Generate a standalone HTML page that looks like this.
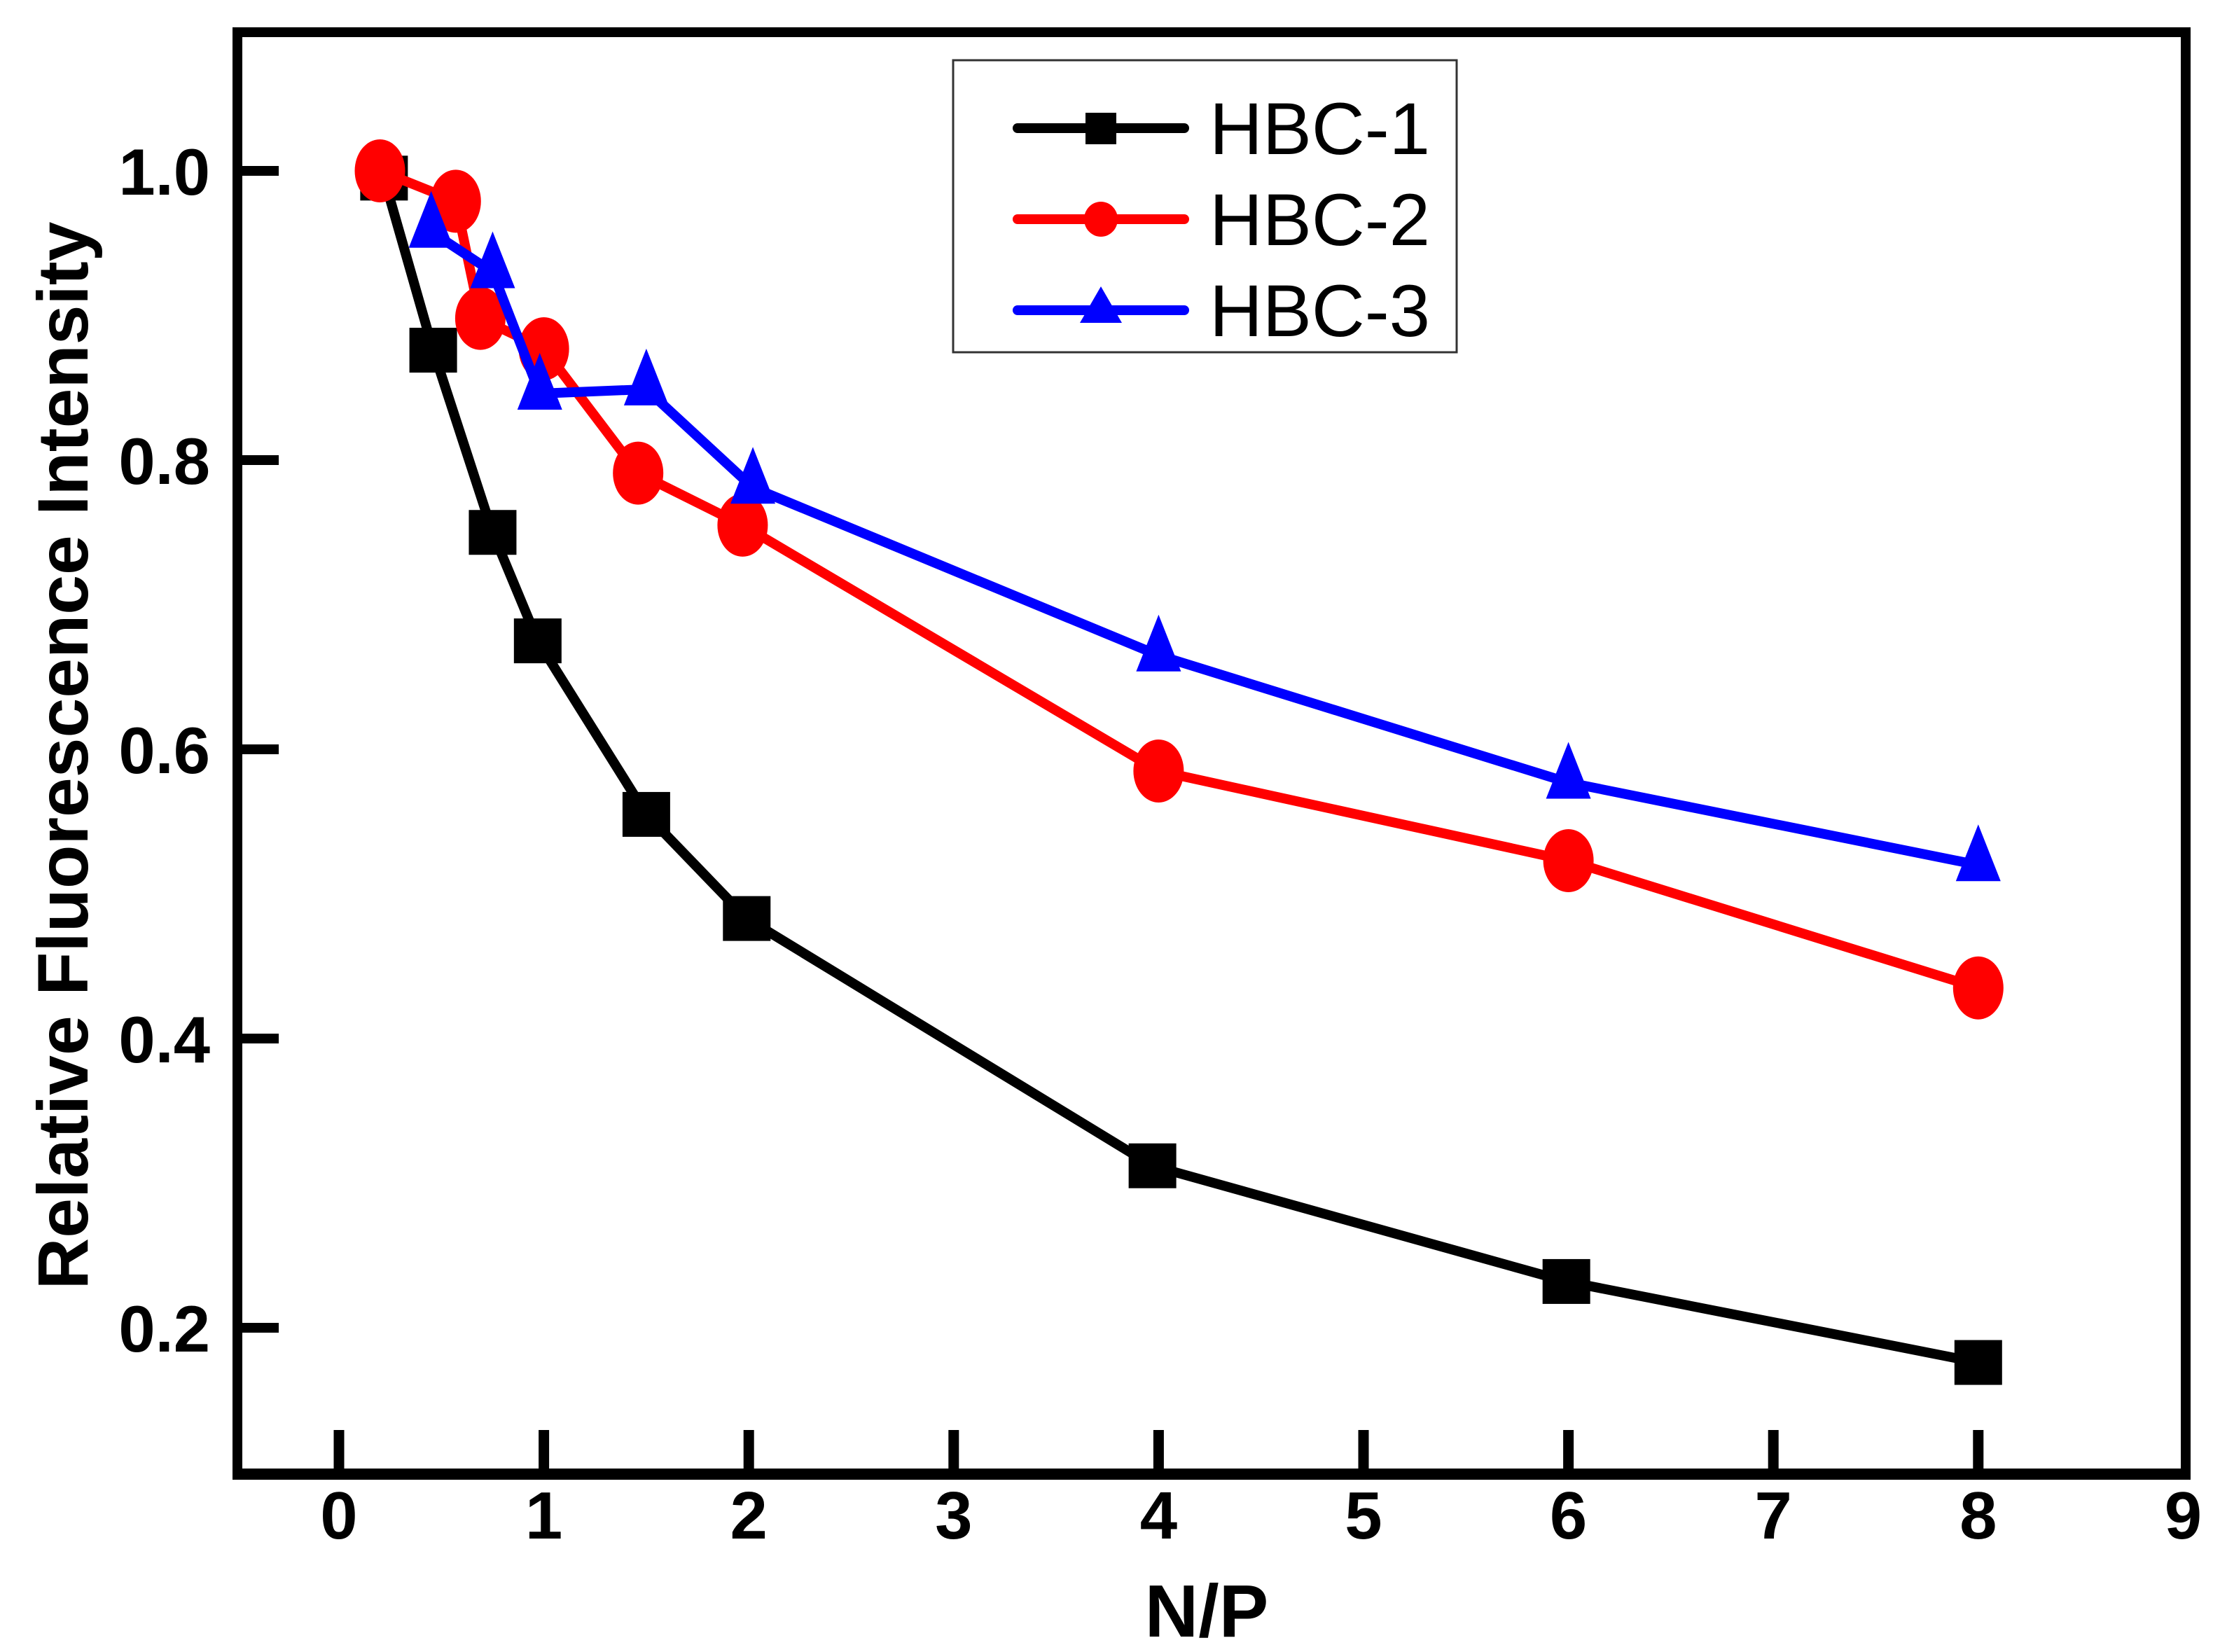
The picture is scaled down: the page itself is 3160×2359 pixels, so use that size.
<!DOCTYPE html>
<html><head><meta charset="utf-8"><style>
html,body{margin:0;padding:0;background:#fff}
svg{display:block}
text{font-family:"Liberation Sans",sans-serif;font-weight:bold}
</style></head><body>
<svg id="chart" width="3160" height="2359" viewBox="0 0 3160 2359" xmlns="http://www.w3.org/2000/svg">
</svg>
<script>
const xTicks=[0,1,2,3,4,5,6,7,8,9];
const yTicks=[0.2,0.4,0.6,0.8,1.0];
const yTickLabels=["0.2","0.4","0.6","0.8","1.0"];
const x1=[0.22,0.46,0.75,0.97,1.5,1.99,3.97,5.99,8];
const y1=[0.995,0.876,0.75,0.675,0.555,0.483,0.312,0.232,0.176];
const x2=[0.2,0.57,0.69,1.0,1.46,1.97,4,6,8];
const y2=[1.0,0.979,0.898,0.877,0.791,0.755,0.585,0.523,0.435];
const x3=[0.45,0.75,0.98,1.5,2.02,4,6,8];
const y3=[0.958,0.93,0.846,0.849,0.781,0.665,0.577,0.52];
const seriesNames=["HBC-1","HBC-2","HBC-3"];

const NS="http://www.w3.org/2000/svg";
const svg=document.getElementById('chart');
const X=v=>484+v*292.6;
const Y=v=>244+(1-v)*2065;
function mk(tag,attrs,parent){const e=document.createElementNS(NS,tag);for(const k in attrs)e.setAttribute(k,attrs[k]);(parent||svg).appendChild(e);return e;}

let f=mk('rect',{x:339,y:46,width:2782,height:2059,fill:'none',stroke:'#000','stroke-width':14});


let b=mk('line',{x1:332,y1:2105,x2:3128,y2:2105,stroke:'#000','stroke-width':16});



xTicks.forEach(t=>{
  if(t<9){let l=mk('line',{x1:X(t),y1:2042,x2:X(t),y2:2100,stroke:'#000','stroke-width':15});
  
  }
  let tx=mk('text',{x:X(t),y:2197,'font-size':96,'text-anchor':'middle'});
  tx.textContent=t;
  
  
});
yTicks.forEach((t,i)=>{
  let l=mk('line',{x1:335,y1:Y(t),x2:398,y2:Y(t),stroke:'#000','stroke-width':14});
  
  
  let tx=mk('text',{x:300,y:Y(t)+34,'font-size':94,'text-anchor':'end'});
  tx.textContent=yTickLabels[i];
  
  
});
let yt=mk('text',{x:0,y:0,'font-size':102,'text-anchor':'middle',transform:'translate(125,1079) rotate(-90)'});
yt.textContent='Relative Fluorescence Intensity';


let xt=mk('text',{x:1723,y:2337,'font-size':106,'text-anchor':'middle'});
xt.textContent='N/P';



function marker(kind,cx,cy,color,g){
  let m;
  if(kind==='sq'){m=mk('rect',{x:cx-34,y:cy-32,width:68,height:64,fill:color},g);}
  else if(kind==='ci'){m=mk('ellipse',{cx:cx,cy:cy,rx:36,ry:45,fill:color},g);}
  else {m=mk('polygon',{points:`${cx},${cy-58} ${cx-32},${cy+23} ${cx+32},${cy+23}`,fill:color},g);}
  return m;
}
const series=[[x1,y1,'#000','sq'],[x2,y2,'#ff0000','ci'],[x3,y3,'#0000ff','tr']];
series.forEach((s,si)=>{
  const g=mk('g',{});
  
  
  const pts=s[0].map((v,i)=>X(v)+','+Y(s[1][i])).join(' ');
  let pl=mk('polyline',{points:pts,fill:'none',stroke:s[2],'stroke-width':14,'stroke-linejoin':'round'},g);
  
  
  s[0].forEach((v,i)=>{
    let m=marker(s[3],X(v),Y(s[1][i]),s[2],g);
    
    
  });
});

const lg=mk('g',{});


let lr=mk('rect',{x:1361,y:86,width:719,height:417,fill:'#fff',stroke:'#333','stroke-width':3},lg);


const ly=[183,313,443];
series.forEach((s,si)=>{
  const e=mk('g',{},lg);
  
  
  mk('line',{x1:1453,y1:ly[si],x2:1691,y2:ly[si],stroke:s[2],'stroke-width':14,'stroke-linecap':'round'},e);
  const cx=1572,cy=ly[si];
  if(s[3]==='sq')mk('rect',{x:cx-22,y:cy-22,width:44,height:45,fill:s[2]},e);
  else if(s[3]==='ci')mk('ellipse',{cx:cx,cy:cy,rx:24,ry:25,fill:s[2]},e);
  else mk('polygon',{points:`${cx},${cy-34} ${cx-30},${cy+18} ${cx+30},${cy+18}`,fill:s[2]},e);
  let t=mk('text',{x:1727,y:ly[si]+37,'font-size':105,style:'font-weight:normal'},e);
  t.textContent=seriesNames[si];
  
  
});
</script>
</body></html>
